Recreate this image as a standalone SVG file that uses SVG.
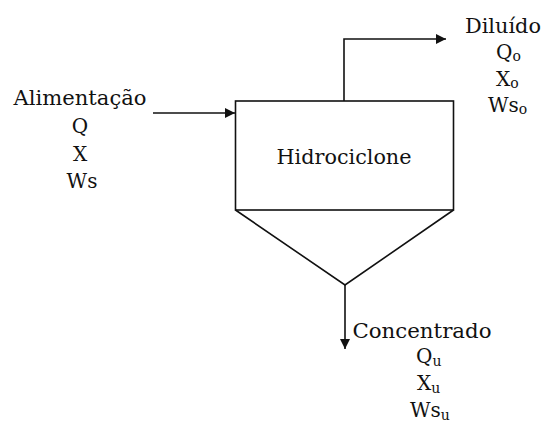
<svg xmlns="http://www.w3.org/2000/svg" width="542" height="424" viewBox="0 0 542 424">
<style>
text{font-family:"DejaVu Serif","Liberation Serif",serif;font-size:20px;fill:#111}
.c{text-anchor:middle}
.sub{font-size:14px}
.ln{fill:none;stroke:#111;stroke-width:1.6}
</style>
<defs>
<marker id="ah" viewBox="0 0 10 10" refX="10" refY="5" markerWidth="10" markerHeight="10" markerUnits="userSpaceOnUse" orient="auto">
<path d="M0,0 L10,5 L0,10 Z" fill="#111"/>
</marker>
</defs>
<rect width="542" height="424" fill="#fff"/>
<g id="hidrociclone">
<rect x="235.5" y="101" width="218" height="109" class="ln"/>
<polyline points="235.5,210 345,285 453.5,210" class="ln"/>
<text x="344" y="164" class="c" textLength="135" lengthAdjust="spacingAndGlyphs">Hidrociclone</text>
</g>
<g id="alimentacao">
<text x="80" y="105" class="c" textLength="133" lengthAdjust="spacingAndGlyphs">Alimentação</text>
<text x="80" y="133" class="c">Q</text>
<text x="80" y="161" class="c">X</text>
<text x="82" y="188" class="c">Ws</text>
</g>
<g id="diluido">
<text x="503" y="33" class="c" textLength="76" lengthAdjust="spacingAndGlyphs">Diluído</text>
<text x="496" y="59">Q<tspan class="sub" dy="2">o</tspan></text>
<text x="496" y="86">X<tspan class="sub" dy="2">o</tspan></text>
<text x="488" y="112">Ws<tspan class="sub" dy="2">o</tspan></text>
</g>
<g id="concentrado">
<text x="422" y="338" class="c" textLength="139" lengthAdjust="spacingAndGlyphs">Concentrado</text>
<text x="416" y="363">Q<tspan class="sub" dy="3">u</tspan></text>
<text x="417" y="390">X<tspan class="sub" dy="3">u</tspan></text>
<text x="410" y="417">Ws<tspan class="sub" dy="3">u</tspan></text>
</g>
<g id="connectors">
<line x1="153" y1="113" x2="235" y2="113" class="ln" marker-end="url(#ah)"/>
<polyline points="344,101 344,39 446,39" class="ln" marker-end="url(#ah)"/>
<line x1="345" y1="285" x2="345" y2="349" class="ln" marker-end="url(#ah)"/>
</g>
</svg>
